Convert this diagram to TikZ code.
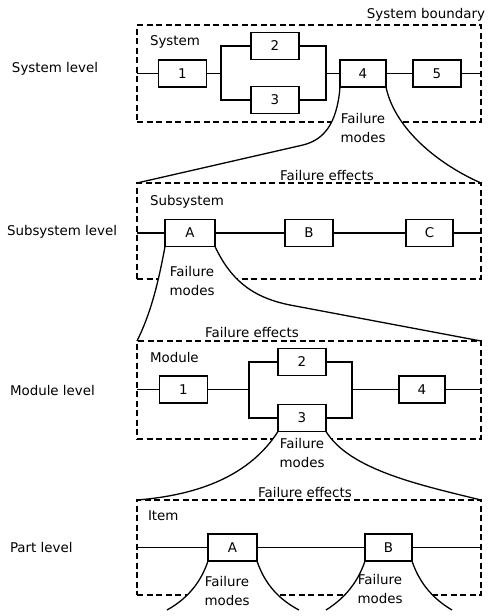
\documentclass[tikz,border=0pt]{standalone}
\usepackage{fontspec}
\setmainfont{DejaVu Sans}
\pgfdeclarelayer{background}
\pgfsetlayers{background,main}
\begin{document}
\begin{tikzpicture}[x=1pt,y=-1pt,
  every node/.style={font=\fontsize{13.4}{19}\selectfont, inner sep=0pt, outer sep=0pt},
  blk/.style={draw, line width=1.3pt, minimum width=48pt, minimum height=27pt, fill=white},
  bnd/.style={draw, line width=1.1pt, dash pattern=on 6pt off 3.5pt, minimum width=344pt},
  ln/.style={line width=1.3pt},
  txt/.style={align=center}]
\useasboundingbox (0,0) rectangle (501,616);

% dashed boundaries
\begin{pgfonlayer}{background}
\node[bnd, minimum height=97pt] (sysb) at (309,73.5) {};
\node[bnd, minimum height=96pt] (subb) at (309,231) {};
\node[bnd, minimum height=98pt] (modb) at (309,390) {};
\node[bnd, minimum height=95pt] (itemb) at (309,547.5) {};
\end{pgfonlayer}

% ---- System level blocks
\node[blk] (b1) at (182.5,73.5) {1};
\node[blk] (b2) at (275,46) {2};
\node[blk] (b3) at (275,100) {3};
\node[blk, minimum width=46pt] (b4) at (363,73.5) {4};
\node[blk] (b5) at (437,73.5) {5};
\coordinate (j1l) at (221,73.5);
\coordinate (j1r) at (326,73.5);

% ---- Subsystem level blocks
\node[blk, minimum width=50pt] (sA) at (190,233) {A};
\node[blk] (sB) at (309,233) {B};
\node[blk, minimum width=47pt] (sC) at (429.5,233) {C};

% ---- Module level blocks
\node[blk] (m1) at (183.5,389.5) {1};
\node[blk] (m2) at (302,362) {2};
\node[blk] (m3) at (302,418) {3};
\node[blk, minimum width=46pt] (m4) at (422,389.5) {4};
\coordinate (j3l) at (249,389.5);
\coordinate (j3r) at (352,389.5);

% ---- Part level blocks
\node[blk, minimum width=49pt] (pa) at (232.5,547.5) {A};
\node[blk, minimum width=47pt] (pb) at (388.5,547.5) {B};

% funnel points
\coordinate (k1) at (303,145);
\coordinate (k2) at (290,305);
\coordinate (pA1) at (167,610);
\coordinate (pA2) at (299,610);
\coordinate (pB1) at (326,610);
\coordinate (pB2) at (452,610);

% white funnels hiding the dashed lines
\begin{pgfonlayer}{background}
\begin{scope}
\clip (100,80) rectangle (500,125);
\fill[white] (b4.south west) .. controls (337,125) and (323,140) .. (k1) -- (subb.north west) -- (subb.north east) .. controls (440,165) and (395,130) .. (b4.south east) -- cycle;
\end{scope}
\begin{scope}
\clip (100,240) rectangle (500,282);
\fill[white] (sA.south west) .. controls (158,285) and (150,315) .. (modb.north west) -- (modb.north east) -- (k2) .. controls (250,297) and (230,278) .. (sA.south east) -- cycle;
\end{scope}
\begin{scope}
\clip (100,425) rectangle (500,442);
\fill[white] (m3.south west) .. controls (250,475) and (200,495) .. (itemb.north west) -- (itemb.north east) .. controls (420,485) and (350,470) .. (m3.south east) -- cycle;
\end{scope}
\begin{scope}
\clip (100,555) rectangle (500,599);
\fill[white] (pa.south west) .. controls (200,585) and (185,600) .. (pA1) -- (pA2) .. controls (280,600) and (265,585) .. (pa.south east) -- cycle;
\fill[white] (pb.south west) .. controls (357,585) and (342,600) .. (pB1) -- (pB2) .. controls (435,600) and (420,585) .. (pb.south east) -- cycle;
\end{scope}
\end{pgfonlayer}

% ---- connectors: system
\draw[ln] (sysb.west |- b1.west) -- (b1.west);
\draw[ln] (b1.east) -- (j1l) |- (b2.west);
\draw[ln] (j1l) |- (b3.west);
\draw[ln] (b2.east) -| (j1r);
\draw[ln] (b3.east) -| (j1r);
\draw[ln] (j1r) -- (b4.west);
\draw[ln] (b4.east) -- (b5.west);
\draw[ln] (b5.east) -- (sysb.east |- b5.east);

% ---- connectors: subsystem
\draw[ln] (subb.west |- sA.west) -- (sA.west);
\draw[ln] (sA.east) -- (sB.west);
\draw[ln] (sB.east) -- (sC.west);
\draw[ln] (sC.east) -- (subb.east |- sC.east);

% ---- connectors: module
\draw[ln] (modb.west |- m1.west) -- (m1.west);
\draw[ln] (m1.east) -- (j3l) |- (m2.west);
\draw[ln] (j3l) |- (m3.west);
\draw[ln] (m2.east) -| (j3r);
\draw[ln] (m3.east) -| (j3r);
\draw[ln] (j3r) -- (m4.west);
\draw[ln] (m4.east) -- (modb.east |- m4.east);

% ---- connectors: part
\draw[ln] (itemb.west |- pa.west) -- (pa.west);
\draw[ln] (pa.east) -- (pb.west);
\draw[ln] (pb.east) -- (itemb.east |- pb.east);

% ---- funnel curves
\draw[ln] (b4.south west) .. controls (337,125) and (323,140) .. (k1) -- (subb.north west);
\draw[ln] (b4.south east) .. controls (395,130) and (440,165) .. (subb.north east);
\draw[ln] (sA.south west) .. controls (158,285) and (150,315) .. (modb.north west);
\draw[ln] (sA.south east) .. controls (230,278) and (250,297) .. (k2) -- (modb.north east);
\draw[ln] (m3.south west) .. controls (250,475) and (200,495) .. (itemb.north west);
\draw[ln] (m3.south east) .. controls (350,470) and (420,485) .. (itemb.north east);
\draw[ln] (pa.south west) .. controls (200,585) and (185,600) .. (pA1);
\draw[ln] (pa.south east) .. controls (265,585) and (280,600) .. (pA2);
\draw[ln] (pb.south west) .. controls (357,585) and (342,600) .. (pB1);
\draw[ln] (pb.south east) .. controls (420,585) and (435,600) .. (pB2);

% ---- texts
\node (tsb) at (426,15) {System boundary};
\node[anchor=west] (tsys) at (150,42) {System};
\node[anchor=west] (tsub) at (150,202) {Subsystem};
\node[anchor=west] (tmod) at (150,357) {Module};
\node[anchor=west] (titem) at (148,516) {Item};

\node[anchor=west] (lsys) at (12,69) {System level};
\node[anchor=west] (lsub) at (7,232) {Subsystem level};
\node[anchor=west] (lmod) at (10,390) {Module level};
\node[anchor=west] (lpart) at (10,547) {Part level};

\node[txt] (fm1) at (363,128) {Failure\\modes};
\node[txt] (fm2) at (192,281) {Failure\\modes};
\node[txt] (fm3) at (302,453) {Failure\\modes};
\node[txt] (fm4) at (227,591) {Failure\\modes};
\node[txt] (fm5) at (380,589) {Failure\\modes};

\node (fe2) at (327,176) {Failure effects};
\node (fe3) at (252,332) {Failure effects};
\node (fe4) at (305,492) {Failure effects};
\end{tikzpicture}
\end{document}
